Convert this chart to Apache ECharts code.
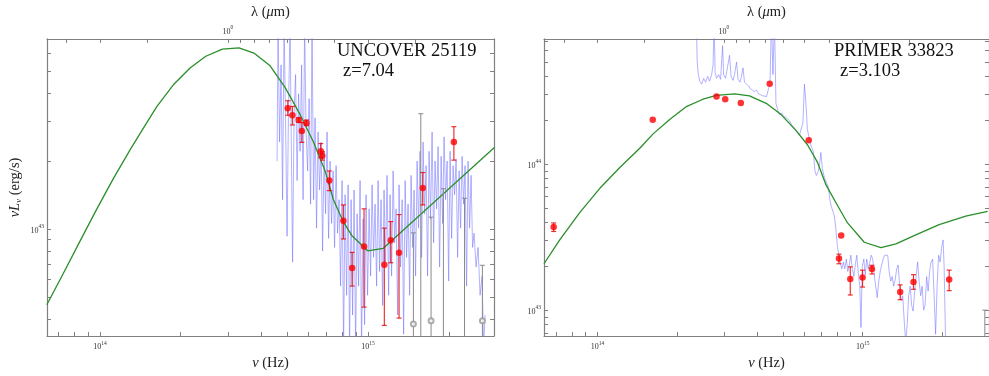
<!DOCTYPE html>
<html><head><meta charset="utf-8">
<script src="https://cdn.jsdelivr.net/npm/echarts@6/dist/echarts.min.js"></script>
<style>html,body{margin:0;padding:0;background:#fff}#c{width:989px;height:376px}</style>
</head><body><div id="c"></div>
<script>
// Units: frequency in 1e14 Hz, luminosity nuL_nu in 1e43 erg/s, wavelength in micron
const C_UM = 2.998; // c expressed in micron * 1e14 Hz

// ---------------- UNCOVER 25119 (left panel) ----------------
const uncModelNu = [0.633,0.730,0.842,0.972,1.121,1.294,1.494,1.628,1.877,2.167,2.48,2.86,3.30,3.75,4.31,4.90,5.58,6.25,6.91,7.42,8.09,8.69,9.97,11.4,29.6];
const uncModelL  = [0.463,0.638,0.885,1.226,1.673,2.244,2.962,3.487,4.352,5.16,5.82,6.26,6.34,6.01,5.28,4.24,3.21,2.435,1.815,1.353,1.076,0.938,0.802,0.823,2.296];

const uncSpecNu = [4.575,4.615,4.675,4.736,4.797,4.860,4.923,4.986,5.051,5.117,5.183,5.228,5.296,5.365,5.435,5.505,5.577,5.649,5.722,5.797,5.872,5.948,6.026,6.102,6.180,
6.261,6.342,6.424,6.508,6.592,6.678,6.765,6.853,6.942,7.031,7.123,7.215,7.309,7.404,7.499,7.597,7.695,7.796,7.897,7.999,
8.103,8.208,8.315,8.423,8.532,8.643,8.755,8.868,8.984,9.100,9.218,9.336,9.457,9.580,9.703,9.829,9.957,10.09,10.22,10.35,
10.48,10.62,10.76,10.90,11.04,11.18,11.33,11.47,11.62,11.77,11.93,12.08,12.24,12.40,12.56,12.72,12.89,13.05,13.22,13.40,
13.57,13.75,13.92,14.10,14.29,14.47,14.66,14.85,15.04,15.24,15.43,15.63,15.84,16.04,16.25,16.46,16.67,16.89,17.11,17.33,
17.56,17.78,18.01,18.25,18.49,18.73,18.97,19.21,19.46,19.72,19.98,20.23,20.50,20.76,21.03,21.30,21.58,21.86,22.14,22.43,
22.72,23.01,23.31,23.61,23.92,24.23,24.54,24.86,25.29,25.73,26.18,26.63,26.98,27.33];
const uncSpecL = [2.00,8,2.43,5.33,1.35,8,2.96,0.93,3.60,8,1.81,0.715,3.27,4.83,1.64,3.97,2.21,5.33,1.35,8,2.69,1.81,3.78,1.29,8,
1.35,3.11,1.01,2.69,1.49,2.43,0.80,2.21,1.17,2.69,0.91,2.00,1.06,1.81,0.83,1.91,0.96,1.35,0.56,1.64,
0.3,1.42,0.51,1.57,0.3,1.35,0.417,1.49,0.3,1.17,0.56,1.64,0.3,1.11,0.378,1.42,0.51,1.23,0.62,1.57,
0.75,1.29,0.56,1.64,0.65,1.35,0.46,1.49,0.715,1.73,0.51,1.42,0.62,1.81,0.87,1.23,0.417,1.57,0.68,1.35,
0.343,1.64,0.75,1.29,0.51,1.73,0.83,1.49,0.62,2.00,1.01,2.21,0.75,2.43,1.17,1.91,0.62,2.21,1.11,2.69,
0.87,2.00,1.23,2.32,0.68,2.10,1.06,2.56,1.35,2.00,0.59,2.21,0.91,1.91,1.42,2.04,0.75,1.81,1.01,2.10,
1.29,1.91,0.56,2.00,1.01,1.73,0.83,0.96,0.68,0.83,0.51,0.62,0.3,0.417];

const uncPhotNu = [5.016,5.22,5.51,5.66,5.89,6.66,6.75,7.17,8.09,8.72,9.66,11.5,12.15,13.05,16.0,20.9];
const uncPhotL  = [3.43,3.19,3.04,2.72,2.95,2.21,2.11,1.64,1.09,0.673,0.839,0.695,0.893,0.787,1.52,2.43];
const uncPhotLo = [3.19,2.89,2.97,2.42,2.87,2.07,2.02,1.48,0.905,0.56,0.452,0.375,0.71,0.404,1.28,2.02];
const uncPhotHi = [3.70,3.49,3.11,2.96,3.04,2.39,2.20,1.81,1.28,0.789,1.23,1.01,1.08,1.16,1.78,2.84];

const uncLimNu = [14.76,15.73,17.18,19.1,22.9,26.7];
const uncLimL  = [0.381,0.2,0.393,0.2,0.2,0.393];
const uncLimLo = [0.01,0.01,0.01,0.01,0.01,0.01];
const uncLimHi = [0.963,3.24,1.13,1.51,1.37,0.692];

// ---------------- PRIMER 33823 (right panel) ----------------
const priModelNu = [0.628,0.721,0.858,1.02,1.213,1.443,1.62,1.871,2.163,2.497,2.805,3.287,3.743,4.325,4.925,5.61,6.20,6.765,7.28,7.93,8.77,10.14,11.72,13.35,15.87,19.43,24.48,29.62];
const priModelL  = [2.08,3.04,4.68,6.84,9.50,12.87,16.15,20.29,24.86,27.9,29.65,30.4,29.4,26.15,21.9,17.0,13.55,10.25,7.19,5.45,3.96,2.92,2.68,2.85,3.28,3.86,4.41,4.75];

const priSpecNu = [2.358,2.375,2.395,2.427,2.470,2.513,2.557,2.602,2.647,2.693,2.728,2.752,2.776,2.812,2.861,2.911,2.962,2.988,3.040,3.093,
3.147,3.188,3.244,3.286,3.344,3.388,3.446,3.491,3.537,3.583,3.646,3.710,3.776,3.842,3.908,3.977,4.047,4.117,4.189,4.262,
4.338,4.412,4.470,4.529,4.588,4.648,4.709,4.771,4.854,4.939,5.026,5.113,5.203,5.295,5.387,5.481,5.577,5.675,5.774,5.874,
5.952,6.029,6.108,6.187,6.295,6.405,6.518,6.603,6.689,6.776,6.866,6.955,7.047,7.170,7.295,7.422,7.519,7.617,7.718,7.818,
7.921,8.024,8.130,8.235,8.343,8.453,8.563,8.676,8.789,8.905,9.021,9.140,9.259,9.381,9.502,9.625,9.752,9.854,9.965,10.10,
10.23,10.36,10.50,10.63,10.77,10.91,11.06,11.20,11.35,11.50,11.65,11.80,11.95,12.11,12.27,12.43,12.59,12.76,12.92,13.09,
13.27,13.44,13.61,13.79,13.97,14.16,14.34,14.53,14.72,14.91,15.11,15.30,15.50,15.71,15.91,16.12,16.33,16.55,16.76,16.98,
17.20,17.43,17.66,17.88,18.12,18.36,18.60,18.84,19.09,19.34,19.60,19.85,20.11,20.29,20.55];
const priSpecL = [100,51.8,42.5,37.1,35.4,38.8,36.5,40.0,37.1,41.2,48.0,100,42.5,38.8,41.2,38.2,65.0,41.2,38.8,40.0,
55.8,40.0,37.6,41.2,50.2,38.2,36.5,40.0,45.8,36.5,35.4,34.4,32.8,33.3,31.4,32.3,30.4,30.9,29.5,30.4,
29.1,32.8,35.4,100,41.2,100,26.1,23.9,21.8,22.5,21.5,22.1,20.5,19.9,18.7,19.0,17.35,16.6,15.8,15.4,
19.3,35.4,26.1,17.35,14.9,13.2,12.2,9.03,8.37,8.76,9.74,12.05,9.31,8.12,7.53,6.98,5.73,5.15,5.31,4.43,
3.63,2.77,2.38,2.10,1.92,2.14,1.92,2.24,1.84,2.04,2.38,1.92,1.70,2.04,2.38,1.81,1.46,0.761,1.98,2.24,
1.75,2.24,1.92,2.10,2.38,2.24,1.75,1.46,1.22,1.58,1.84,2.04,2.24,2.38,2.45,2.38,1.84,1.58,1.70,1.46,
1.63,1.92,2.04,1.46,1.164,1.256,0.859,0.6,0.796,1.256,1.46,1.079,0.985,1.35,1.70,2.14,1.58,1.256,1.46,1.0,
1.079,1.70,1.35,1.84,2.14,2.24,1.256,0.684,1.46,2.38,2.14,2.68,3.03,1.98,0.6];

const priPhotNu = [0.683,1.615,2.81,3.03,3.47,4.46,6.26,8.14,8.30,8.98,9.99,10.84,13.85,15.55,21.2];
const priPhotL  = [3.71,20.2,29.1,27.9,26.3,35.6,14.6,2.26,3.25,1.633,1.675,1.912,1.33,1.56,1.62];
const priPhotLo = [3.46,20.2,29.1,27.9,26.3,35.6,14.6,2.08,3.25,1.27,1.44,1.77,1.18,1.39,1.36];
const priPhotHi = [3.96,20.2,29.1,27.9,26.3,35.6,14.6,2.42,3.25,1.98,1.88,2.03,1.49,1.75,1.88];

const priLimNu = [28.9];
const priLimL  = [0.3];
const priLimLo = [0.01];
const priLimHi = [1.0];

// ---------------- axes ----------------
const uncNuRange = [0.634, 29.5];
const uncLRange  = [0.3364, 6.945];
const priNuRange = [0.628, 29.96];
const priLRange  = [0.664, 72.3];

const nuTickVals  = [0.7,0.8,0.9,1,2,3,4,5,6,7,8,9,10,20];
const nuLabelVals = [1, 10];
const lamTickVals = [0.2,0.3,0.4,0.5,0.6,0.7,0.8,0.9,1,2,3,4];
const lamLabelVals = [1];
const uncLTickVals = [0.4,0.5,0.6,0.7,0.8,0.9,1,2,3,4,5,6];
const uncLLabelVals = [1];
const priLTickVals = [0.7,0.8,0.9,1,2,3,4,5,6,7,8,9,10,20,30,40,50,60,70];
const priLLabelVals = [1, 10];

const SERIF = '"Liberation Serif","DejaVu Serif",serif';
const AX = '#808080';
const lg = Math.log10;
const inR = (vals, r) => vals.filter(v => v >= r[0] && v <= r[1]);
const zip = (a, b) => a.map((v, i) => [v, b[i]]);
const zip3 = (a, b, c) => a.map((v, i) => [v, b[i], c[i]]);

const tickRich = {
  b: {fontFamily: SERIF, fontSize: 8, color: '#333', lineHeight: 11, verticalAlign: 'bottom'},
  s: {fontFamily: SERIF, fontSize: 5.5, color: '#333', lineHeight: 7, verticalAlign: 'top'}
};
const nameRich = {
  r: {fontFamily: SERIF, fontSize: 14.5, color: '#222'},
  i: {fontFamily: SERIF, fontSize: 14.5, fontStyle: 'italic', color: '#222'},
  sub: {fontFamily: SERIF, fontSize: 9, fontStyle: 'italic', color: '#222', verticalAlign: 'bottom', lineHeight: 10}
};
const powFmt = v => '{b|10}{s|' + Math.round(v) + '}';

function dispAxis(extra) {
  return Object.assign({
    type: 'value', splitLine: {show: false},
    axisLine: {show: true, onZero: false, lineStyle: {color: AX, width: 1.2}},
    axisTick: {show: true, inside: true, length: 4, lineStyle: {color: AX, width: 1}},
  }, extra);
}

function errRender(color, cap, w) {
  return function (params, api) {
    const x = api.value(0), lo = api.value(1), hi = api.value(2);
    if (hi / lo < 1.001) return null;
    const p1 = api.coord([x, lo]), p2 = api.coord([x, hi]);
    const st = {stroke: color, lineWidth: w};
    return {type: 'group', children: [
      {type: 'line', shape: {x1: p1[0], y1: p1[1], x2: p2[0], y2: p2[1]}, style: st},
      {type: 'line', shape: {x1: p2[0] - cap, y1: p2[1], x2: p2[0] + cap, y2: p2[1]}, style: st},
      {type: 'line', shape: {x1: p1[0] - cap, y1: p1[1], x2: p1[0] + cap, y2: p1[1]}, style: st}
    ]};
  };
}

const xAxis = [], yAxis = [], series = [];
function buildPanel(gi, p) {
  const xi = xAxis.length, yi = yAxis.length;
  xAxis.push({type: 'log', logBase: 10, gridIndex: gi, min: p.nuR[0], max: p.nuR[1], show: false});
  xAxis.push(dispAxis({gridIndex: gi, position: 'bottom', min: lg(p.nuR[0]) + 14, max: lg(p.nuR[1]) + 14,
    axisTick: {show: true, inside: true, length: 4, lineStyle: {color: AX}, customValues: inR(nuTickVals, p.nuR).map(v => lg(v) + 14)},
    axisLabel: {show: true, margin: 4, customValues: nuLabelVals.map(v => lg(v) + 14), formatter: powFmt, rich: tickRich},
    name: '{i|ν}{r| (Hz)}', nameLocation: 'middle', nameGap: 19, nameTextStyle: {rich: nameRich}}));
  const lamR = [C_UM / p.nuR[1], C_UM / p.nuR[0]];
  xAxis.push(dispAxis({gridIndex: gi, position: 'top', inverse: true, min: lg(lamR[0]), max: lg(lamR[1]),
    axisTick: {show: true, inside: true, length: 4, lineStyle: {color: AX}, customValues: inR(lamTickVals, lamR).map(v => lg(v))},
    axisLabel: {show: true, margin: 3, customValues: lamLabelVals.map(v => lg(v)), formatter: powFmt, rich: tickRich},
    name: '{r|λ (}{i|μ}{r|m)}', nameLocation: 'middle', nameGap: 12, nameTextStyle: {rich: nameRich}}));

  yAxis.push({type: 'log', logBase: 10, gridIndex: gi, min: p.LR[0], max: p.LR[1], show: false});
  yAxis.push(dispAxis(Object.assign({gridIndex: gi, position: 'left', min: lg(p.LR[0]) + 43, max: lg(p.LR[1]) + 43,
    axisTick: {show: true, inside: true, length: 4, lineStyle: {color: AX}, customValues: inR(p.LTicks, p.LR).map(v => lg(v) + 43)},
    axisLabel: {show: true, margin: 3, customValues: p.LLabels.map(v => lg(v) + 43), formatter: powFmt, rich: tickRich}},
    p.yName ? {name: '{i|νL}{sub|ν}{r| (erg/s)}', nameLocation: 'middle', nameRotate: 90, nameGap: 24, nameTextStyle: {rich: nameRich}} : {})));
  yAxis.push(dispAxis({gridIndex: gi, position: 'right', min: lg(p.LR[0]) + 43, max: lg(p.LR[1]) + 43,
    axisTick: {show: true, inside: true, length: 4, lineStyle: {color: AX}, customValues: inR(p.LTicks, p.LR).map(v => lg(v) + 43)},
    axisLabel: {show: false}}));

  const ax = {xAxisIndex: xi, yAxisIndex: yi};
  series.push(Object.assign({type: 'line', data: zip(p.specNu, p.specL), symbol: 'none', clip: true, silent: true, z: 1,
    lineStyle: {color: 'rgba(115,115,255,0.55)', width: 1}}, ax));
  series.push(Object.assign({type: 'line', data: zip(p.modNu, p.modL), symbol: 'none', clip: true, silent: true, z: 3,
    lineStyle: {color: '#2a8f2a', width: 1.3}}, ax));
  series.push(Object.assign({type: 'custom', data: zip3(p.limNu, p.limLo, p.limHi), clip: true, silent: true, z: 4,
    encode: {x: 0, y: [1, 2]}, renderItem: errRender('#8a8a8a', 2.5, 1)}, ax));
  series.push(Object.assign({type: 'scatter', data: zip(p.limNu, p.limL), symbol: 'emptyCircle', symbolSize: 5, clip: true, silent: true, z: 4,
    itemStyle: {color: '#999', borderColor: '#999', borderWidth: 0.8}}, ax));
  series.push(Object.assign({type: 'custom', data: zip3(p.photNu, p.photLo, p.photHi), clip: true, silent: true, z: 5,
    encode: {x: 0, y: [1, 2]}, renderItem: errRender('rgba(235,0,0,0.8)', 2.5, 1.2)}, ax));
  series.push(Object.assign({type: 'scatter', data: zip(p.photNu, p.photL), symbol: 'circle', symbolSize: 6.5, clip: true, silent: true, z: 6,
    itemStyle: {color: '#ff0000'}}, ax));
}

buildPanel(0, {nuR: uncNuRange, LR: uncLRange, LTicks: uncLTickVals, LLabels: uncLLabelVals, yName: true,
  specNu: uncSpecNu, specL: uncSpecL, modNu: uncModelNu, modL: uncModelL,
  photNu: uncPhotNu, photL: uncPhotL, photLo: uncPhotLo, photHi: uncPhotHi,
  limNu: uncLimNu, limL: uncLimL, limLo: uncLimLo, limHi: uncLimHi});
buildPanel(1, {nuR: priNuRange, LR: priLRange, LTicks: priLTickVals, LLabels: priLLabelVals, yName: false,
  specNu: priSpecNu, specL: priSpecL, modNu: priModelNu, modL: priModelL,
  photNu: priPhotNu, photL: priPhotL, photLo: priPhotLo, photHi: priPhotHi,
  limNu: priLimNu, limL: priLimL, limLo: priLimLo, limHi: priLimHi});

const titleFont = '18.5px ' + SERIF;
const chart = echarts.init(document.getElementById('c'), null, {renderer: 'canvas'});
chart.setOption({
  animation: false,
  backgroundColor: '#ffffff',
  grid: [
    {left: 47, top: 33, width: 447, height: 309},
    {left: 544, top: 33, width: 446, height: 309}
  ],
  xAxis, yAxis, series,
  graphic: [
    {type: 'text', x: 337, y: 51, style: {text: 'UNCOVER 25119', font: titleFont, fill: '#111', verticalAlign: 'middle'}},
    {type: 'text', x: 343, y: 71, style: {text: 'z=7.04', font: titleFont, fill: '#111', verticalAlign: 'middle'}},
    {type: 'text', x: 834, y: 51, style: {text: 'PRIMER 33823', font: titleFont, fill: '#111', verticalAlign: 'middle'}},
    {type: 'text', x: 840, y: 71, style: {text: 'z=3.103', font: titleFont, fill: '#111', verticalAlign: 'middle'}}
  ]
});
</script>
</body></html>
